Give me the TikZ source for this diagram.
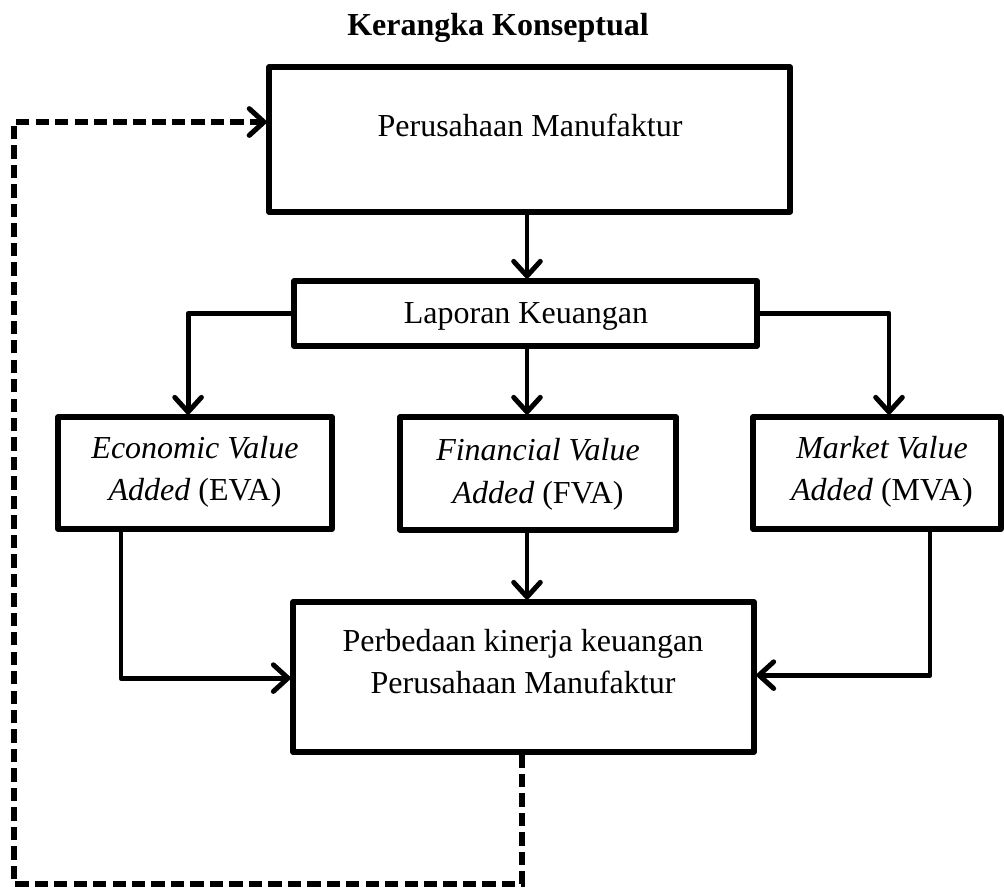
\documentclass[tikz,border=0pt]{standalone}
\usepackage{fontspec}
\setmainfont{Liberation Serif}
\usetikzlibrary{arrows.meta,calc}
\begin{document}
\begin{tikzpicture}[x=0.375pt,y=-0.375pt,
  box/.style={draw=black,line width=1.9pt,line join=round,rectangle,inner sep=0pt},
  txt/.style={font=\fontsize{12pt}{15.8pt}\selectfont,inner sep=0pt,anchor=base,align=center},
  ttl/.style={font=\fontsize{12pt}{15pt}\selectfont\bfseries,inner sep=0pt,anchor=base},
  arr/.style={line width=1.85pt,line join=round,-{Straight Barb[length=5.5pt,width=10pt,round]}},
  dsh/.style={line width=1.9pt,dash pattern=on 5pt off 2.3pt,-{Straight Barb[length=5.5pt,width=10pt,round]}}]
\useasboundingbox (0,0) rectangle (1004,888);
% title
\node[ttl] (title) at (498,35) {Kerangka Konseptual};
% boxes
\node[box,minimum width={521*0.375pt},minimum height={145*0.375pt}] (pm) at (529.5,139.5) {};
\node[txt] (pmt) at (530,136) {Perusahaan Manufaktur};
\node[box,minimum width={463*0.375pt},minimum height={65*0.375pt}] (lk) at (525.5,313.5) {};
\node[txt] (lkt) at (526,323) {Laporan Keuangan};
\node[box,minimum width={274*0.375pt},minimum height={112*0.375pt}] (eva) at (195,473) {};
\node[txt] (evat1) at (195,458) {\itshape Economic Value};
\node[txt] (evat2) at (195,500) {\itshape Added\/\upshape{} (EVA)};
\node[box,minimum width={276*0.375pt},minimum height={113*0.375pt}] (fva) at (538,473.5) {};
\node[txt] (fvat1) at (538,460) {\itshape Financial Value};
\node[txt] (fvat2) at (538,503) {\itshape Added\/\upshape{} (FVA)};
\node[box,minimum width={248*0.375pt},minimum height={112*0.375pt}] (mva) at (877,473) {};
\node[txt] (mvat1) at (882,458) {\itshape Market Value};
\node[txt] (mvat2) at (882,500) {\itshape Added\/\upshape{} (MVA)};
\node[box,minimum width={461*0.375pt},minimum height={150*0.375pt}] (pk) at (523.5,677) {};
\node[txt] (pkt1) at (523,651) {Perbedaan kinerja keuangan};
\node[txt] (pkt2) at (523,693) {Perusahaan Manufaktur};
% helper coordinates
\coordinate (ax) at (527,0);
\coordinate (exl) at (121,0);
\coordinate (exr) at (930,0);
\coordinate (dv) at (522,0);
\coordinate (db) at (522,884);
\coordinate (dl) at (14,884);
% connectors
\draw[arr] (ax |- pm.south) -- (ax |- lk.north);
\draw[arr] (lk.west) -| ([xshift=-2.6pt]eva.north);
\draw[arr] (lk.east) -| ([xshift=4.5pt]mva.north);
\draw[arr] (ax |- lk.south) -- (ax |- fva.north);
\draw[arr] (ax |- fva.south) -- (ax |- pk.north);
\draw[arr] (exl |- eva.south) |- ([yshift=-0.4pt]pk.west);
\draw[arr] (exr |- mva.south) |- ([yshift=0.7pt]pk.east);
\draw[dsh] (dv |- pk.south) -- (db) -- (dl) |- ([yshift=6.56pt]pm.west);
\end{tikzpicture}
\end{document}
